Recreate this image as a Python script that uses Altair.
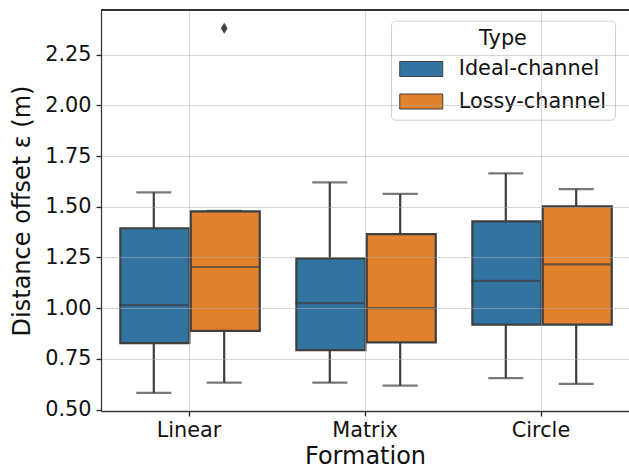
import altair as alt
import pandas as pd

# ---- data ----
formation_order = ["Linear", "Matrix", "Circle"]
type_order = ["Ideal-channel", "Lossy-channel"]

formations = ["Linear", "Linear", "Matrix", "Matrix", "Circle", "Circle"]
types = ["Ideal-channel", "Lossy-channel"] * 3
whisker_low = [0.582, 0.633, 0.633, 0.618, 0.655, 0.627]
q1 = [0.828, 0.888, 0.793, 0.831, 0.919, 0.919]
median = [1.015, 1.203, 1.025, 1.000, 1.135, 1.216]
q3 = [1.394, 1.477, 1.245, 1.365, 1.428, 1.502]
whisker_high = [1.571, 1.480, 1.620, 1.563, 1.665, 1.587]

outlier_formation = ["Linear"]
outlier_type = ["Lossy-channel"]
outlier_value = [2.380]

y_ticks = [0.50, 0.75, 1.00, 1.25, 1.50, 1.75, 2.00, 2.25]
colors = ["#3274a1", "#e1812c"]

stats = pd.DataFrame({
    "Formation": formations, "Type": types,
    "lo": whisker_low, "q1": q1, "med": median, "q3": q3, "hi": whisker_high,
})
outliers = pd.DataFrame({"Formation": outlier_formation, "Type": outlier_type, "v": outlier_value})

FONT = "DejaVu Sans"
EDGE = "#3f3f3f"
LW = 2.2
W, H = 528, 401

xscale = alt.Scale(paddingInner=0, paddingOuter=0)
xoff = alt.XOffset("Type:N", sort=type_order, scale=alt.Scale(paddingInner=0, paddingOuter=0.25))
yscale = alt.Scale(domain=[0.493, 2.470], nice=False, zero=False)

x_axis = alt.Axis(title="Formation", labelAngle=0, labelFontSize=20.8, titleFontSize=24,
                  tickSize=5, tickWidth=1.25, tickColor="#222", labelPadding=4,
                  domainColor="#333", domainWidth=1.25, grid=True, gridColor="#b0b0b0",
                  gridOpacity=0.5, gridWidth=1, titlePadding=5, zindex=1,
                  labelColor="#111", titleColor="#111", titleFontWeight="normal")
y_axis = alt.Axis(title="Distance offset ε (m)", values=y_ticks, format=".2f",
                  labelFontSize=20.8, titleFontSize=24, tickSize=5, tickWidth=1.25,
                  tickColor="#222", labelPadding=5, domainColor="#333", domainWidth=1.25,
                  grid=True, gridColor="#b0b0b0", gridOpacity=0.5, gridWidth=1,
                  titlePadding=10, zindex=1, labelColor="#111", titleColor="#111",
                  titleFontWeight="normal")

X = alt.X("Formation:N", sort=formation_order, scale=xscale, axis=x_axis)


def Y(field):
    return alt.Y(f"{field}:Q", scale=yscale, axis=y_axis)


base = alt.Chart(stats)

whisk_low = base.mark_rule(color=EDGE, strokeWidth=LW).encode(x=X, xOffset=xoff, y=Y("lo"), y2="q1:Q")
whisk_high = base.mark_rule(color=EDGE, strokeWidth=LW).encode(x=X, xOffset=xoff, y=Y("q3"), y2="hi:Q")

boxes = base.mark_bar(width=alt.RelativeBandSize(0.98), stroke=EDGE, strokeWidth=LW, opacity=1).encode(
    x=X, xOffset=xoff, y=Y("q1"), y2="q3:Q",
    color=alt.Color("Type:N", sort=type_order,
                    scale=alt.Scale(domain=type_order, range=colors),
                    legend=alt.Legend(title="Type", orient="none", legendX=290, legendY=10.7,
                                      direction="vertical", titleAnchor="middle",
                                      titleFontSize=20.8, labelFontSize=20.8,
                                      titleFontWeight="normal", titleFont=FONT, labelFont=FONT,
                                      titleColor="#111", labelColor="#111",
                                      symbolType="M-2,-0.7H2V0.7H-2Z", symbolSize=462,
                                      symbolOffset=10.75,
                                      symbolStrokeColor=EDGE, symbolStrokeWidth=1,
                                      symbolOpacity=1, labelOffset=26, padding=8,
                                      rowPadding=10.5, titlePadding=8, strokeColor="#d0d0d0",
                                      fillColor="rgba(255,255,255,0.8)", cornerRadius=4)),
)

meds = base.mark_tick(color=EDGE, size=69, thickness=LW).encode(x=X, xOffset=xoff, y=Y("med"))
cap_low = base.mark_tick(color=EDGE, size=35, thickness=LW).encode(x=X, xOffset=xoff, y=Y("lo"))
cap_high = base.mark_tick(color=EDGE, size=35, thickness=LW).encode(x=X, xOffset=xoff, y=Y("hi"))

outl = alt.Chart(outliers).mark_point(shape="M0,-1L0.6,0L0,1L-0.6,0Z", filled=True,
                                      color=EDGE, size=121, opacity=1).encode(
    x=X, xOffset=xoff, y=Y("v"))

# top spine (decoration)
top_spine = alt.Chart(stats).mark_rule(color="#333", strokeWidth=1.25).encode(
    x=alt.value(0), x2=alt.value(W), y=alt.value(0))

chart = alt.layer(whisk_low, whisk_high, boxes, meds, cap_low, cap_high, outl, top_spine).properties(
    width=W, height=H,
    autosize=alt.AutoSizeParams(type="none"),
    padding={"left": 101, "top": 10, "right": 0, "bottom": 57},
).configure_view(stroke=None).configure(font=FONT)

chart.save("out.html", embed_options={"renderer": "svg", "actions": False})
